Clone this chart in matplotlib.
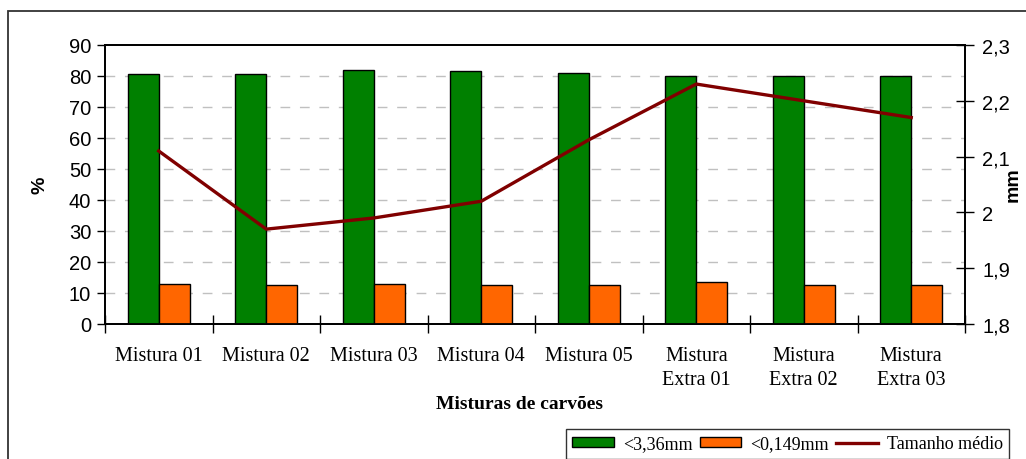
import matplotlib
matplotlib.use("Agg")
import matplotlib.pyplot as plt
import numpy as np
from matplotlib.patches import Rectangle
from matplotlib.lines import Line2D
from matplotlib.patches import Patch

categories = ["Mistura 01", "Mistura 02", "Mistura 03", "Mistura 04", "Mistura 05",
              "Mistura\nExtra 01", "Mistura\nExtra 02", "Mistura\nExtra 03"]
coarse = [80.5, 80.5, 82.0, 81.5, 81.0, 80.0, 80.0, 80.0]      # <3,36mm (%)
fine = [13.0, 12.5, 13.0, 12.5, 12.5, 13.5, 12.5, 12.5]         # <0,149mm (%)
mean_size = [2.11, 1.97, 1.99, 2.02, 2.13, 2.23, 2.20, 2.17]    # Tamanho médio (mm)
left_ticks = [0, 10, 20, 30, 40, 50, 60, 70, 80, 90]
right_ticks = [1.8, 1.9, 2.0, 2.1, 2.2, 2.3]
right_labels = ["1,8", "1,9", "2", "2,1", "2,2", "2,3"]

W, H = 1026, 460
fig = plt.figure(figsize=(W / 100, H / 100), dpi=100)
fig.patch.set_facecolor("white")

# outer chart frame (clipped at right/bottom)
fig.add_artist(Rectangle((8 / W, -0.2), 1.2, (H - 12) / H + 0.2, transform=fig.transFigure,
                         fill=False, edgecolor="#333333", linewidth=1.3, clip_on=False))

ax = fig.add_axes([105 / W, (H - 325) / H, 860 / W, 279 / H])
ax2 = ax.twinx()

x = np.arange(len(categories))
w = 0.29
ax.bar(x - w / 2, coarse, width=w, color="#008000", edgecolor="black", linewidth=1.0, zorder=3)
ax.bar(x + w / 2, fine, width=w, color="#FF6600", edgecolor="black", linewidth=1.0, zorder=3)

ax.set_xlim(-0.5, len(categories) - 0.5)
ax.set_ylim(0, 90)
ax.set_yticks(left_ticks)
ax.set_yticklabels([str(t) for t in left_ticks], family="Liberation Sans", fontsize=14.5)
for t in left_ticks[1:-1]:
    ax.axhline(t, color="#c0c0c0", linewidth=1.0, linestyle=(0, (7, 7)), zorder=1)

ax.set_xticks(np.arange(-0.5, len(categories), 1.0))
ax.set_xticklabels([])
ax.set_xticks(x, minor=True)
ax.set_xticklabels(categories, minor=True, family="Liberation Serif", fontsize=14.5,
                   linespacing=1.35)
ax.tick_params(axis="x", which="major", direction="inout", length=13, width=1)
ax.tick_params(axis="x", which="minor", length=0, pad=16)
ax.tick_params(axis="y", direction="out", length=6, width=1, pad=4)

for s in ax.spines.values():
    s.set_linewidth(1.3)
    s.set_color("black")

ax2.plot(x, mean_size, color="#800000", linewidth=2.4, zorder=5)
ax2.set_ylim(1.8, 2.3)
ax2.set_yticks(right_ticks)
ax2.set_yticklabels(right_labels, family="Liberation Sans", fontsize=14.5)
ax2.tick_params(axis="y", direction="inout", length=13, width=1, pad=6)
for s in ax2.spines.values():
    s.set_linewidth(1.3)

fig.text(40 / W, 1 - 185 / H, "%", rotation=90, ha="center", va="center",
         family="Liberation Sans", fontweight="bold", fontsize=14)
fig.text(1013 / W, 1 - 185 / H, "mm", rotation=90, ha="center", va="center",
         family="Liberation Sans", fontweight="bold", fontsize=14)
fig.text(520 / W, 1 - 405 / H, "Misturas de carvões", ha="center", va="center",
         family="Liberation Serif", fontweight="bold", fontsize=14)

handles = [Patch(facecolor="#008000", edgecolor="black", linewidth=1.0),
           Patch(facecolor="#FF6600", edgecolor="black", linewidth=1.0),
           Line2D([], [], color="#800000", linewidth=2.4)]
leg = fig.legend(handles, ["<3,36mm", "<0,149mm", "Tamanho médio"], ncol=3,
                 loc="upper left", bbox_to_anchor=(566 / W, 1 - 430 / H),
                 prop={"family": "Liberation Serif", "size": 13},
                 frameon=True, fancybox=False, edgecolor="black", borderpad=0.35,
                 handlelength=2.3, handleheight=0.5, columnspacing=0.4, handletextpad=0.5,
                 borderaxespad=0)
leg.get_frame().set_linewidth(1.0)

fig.savefig("out.png", dpi=100)
